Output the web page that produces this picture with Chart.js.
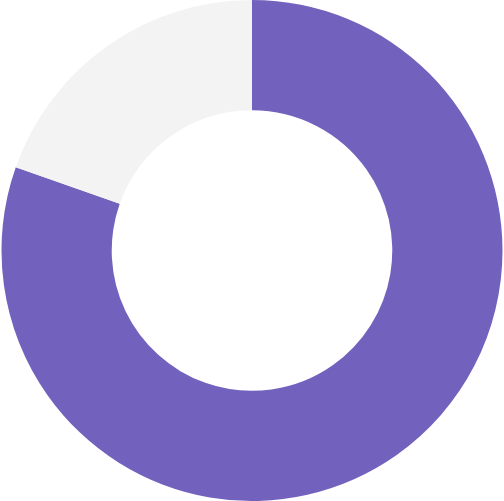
<!DOCTYPE html>
<html><head><meta charset="utf-8">
<script src="https://cdn.jsdelivr.net/npm/chart.js@4"></script>
<style>html,body{margin:0;padding:0;background:#fff;}#wrap{width:504px;height:501px;}</style>
</head><body><div id="wrap"><canvas id="c"></canvas></div>
<script>
const labels = ["Filled", "Remaining"];
const values = [80.4, 19.6];
const colors = ["#7262BE", "#F3F3F3"];
new Chart(document.getElementById("c"), {
  type: "doughnut",
  data: { labels: labels, datasets: [{ data: values, backgroundColor: colors, borderWidth: 0 }] },
  options: {
    responsive: true, maintainAspectRatio: false, animation: false,
    cutout: "56%",
    plugins: { legend: { display: false }, tooltip: { enabled: false } },
    layout: { padding: 0 }
  }
});
</script></body></html>
